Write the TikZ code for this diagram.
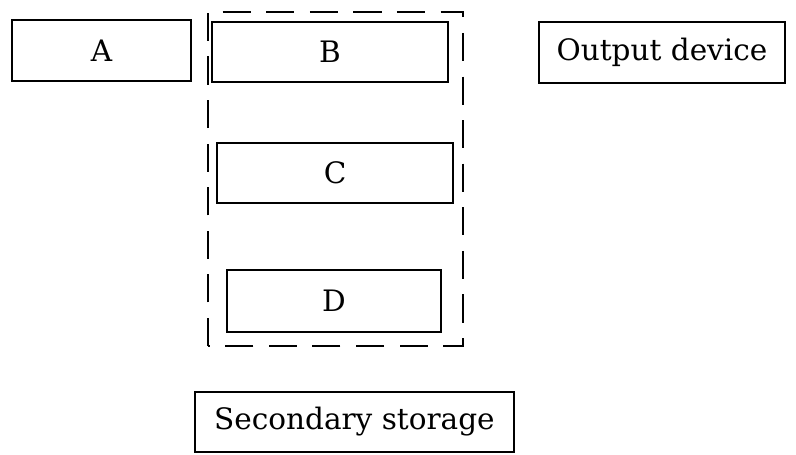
\documentclass[tikz,border=0pt]{standalone}
\usepackage{fontspec}
\setmainfont{DejaVu Serif}
\tikzset{
    unitbox/.style={draw,line width=1.4pt,inner sep=0pt,font=\fontsize{21}{25}\selectfont}
}
\begin{document}
\begin{tikzpicture}
        \useasboundingbox (0,0) rectangle (19.9,-11.35);
        %% Units
        \node[unitbox,minimum width=4.48cm,minimum height=1.53cm] (A) at (2.54,-1.26) {A};
        \node[unitbox,minimum width=5.9cm,minimum height=1.5cm] (B) at (8.25,-1.30) {B};
        \node[unitbox,minimum width=6.15cm,minimum height=1.53cm] (out) at (16.55,-1.31) {Output device};
        \node[unitbox,minimum width=5.9cm,minimum height=1.5cm] (C) at (8.38,-4.33) {C};
        \node[unitbox,minimum width=5.35cm,minimum height=1.55cm] (D) at (8.35,-7.53) {D};
        \node[unitbox,minimum width=7.98cm,minimum height=1.5cm] (sec) at (8.86,-10.55) {Secondary storage};
        %% Dashed frame
        \draw[line width=1.3pt,dash pattern=on 20pt off 11pt] (5.2,-8.65) -- (5.2,-0.3) -- (11.58,-0.3) -- (11.58,-8.65) -- cycle;
    \end{tikzpicture}
\end{document}
